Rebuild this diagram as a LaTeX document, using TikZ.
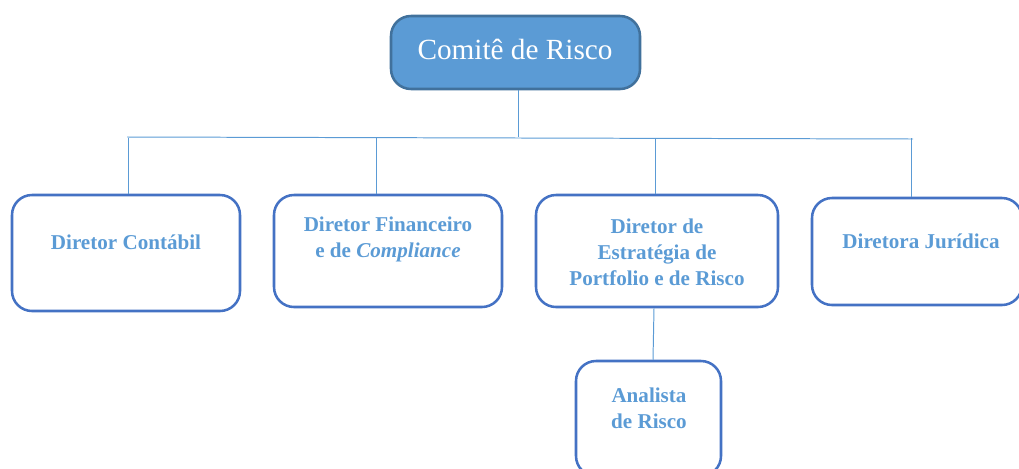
\documentclass[tikz,border=0pt]{standalone}
\usepackage{fontspec}
\setmainfont{Liberation Serif}
\usetikzlibrary{positioning, fit}
\definecolor{xblue}{HTML}{5B9BD5}
\definecolor{xborda}{HTML}{4472C4}
\definecolor{xescuro}{HTML}{41719C}
\tikzset{
	caixa/.style={draw=xborda, line width=1.8pt, rounded corners=0.5cm, inner sep=0pt},
	rotulo/.style={text=xblue, font=\fontsize{15}{18.5}\selectfont\bfseries, align=center},
	ligacao/.style={draw=xblue, line width=0.7pt},
}
\begin{document}
\begin{tikzpicture}[x=0.025cm, y=-0.025cm]
			\useasboundingbox (0,0) rectangle (1019,468);
			\node[caixa, draw=xescuro, fill=xblue, fit={(391,16) (640,89)}] (comite) {};
			\node[text=white, font=\fontsize{20.8}{24}\selectfont] at (515,49) {Comitê de Risco};
			\node[caixa, fit={(12,195) (240,311)}] (contabil) {};
			\node[caixa, fit={(274,195) (502,307)}] (financeiro) {};
			\node[caixa, fit={(536,195) (778,307)}] (estrategia) {};
			\node[caixa, fit={(812,198) (1022,305)}] (juridica) {};
			\node[caixa, fit={(576,361) (721,476)}] (analista) {};
			\node[rotulo] at (126,242) {Diretor Contábil};
			\node[rotulo] at (388,239.5) {Diretor Financeiro\\e de \textit{Compliance}};
			\node[rotulo] at (657,252) {Diretor de\\Estratégia de\\Portfolio e de Risco};
			\node[rotulo] at (921,241) {Diretora Jurídica};
			\node[rotulo] at (649,408) {Analista\\de Risco};
			% barramento
			\coordinate (topo) at (518,137);
			\coordinate (esq) at (127,137);
			\coordinate (dir) at (913,139);
			\draw[ligacao] (comite.south -| topo) -- (topo);
			\draw[ligacao] (esq) -- (dir);
			\foreach \n/\x in {contabil/128, financeiro/376, estrategia/655, juridica/911} {
					\draw[ligacao] (\x,138) -- (\x,138 |- \n.north);
				}
			\draw[ligacao] (estrategia.south -| 654,0) -- (analista.north -| 653,0);
		\end{tikzpicture}
\end{document}
